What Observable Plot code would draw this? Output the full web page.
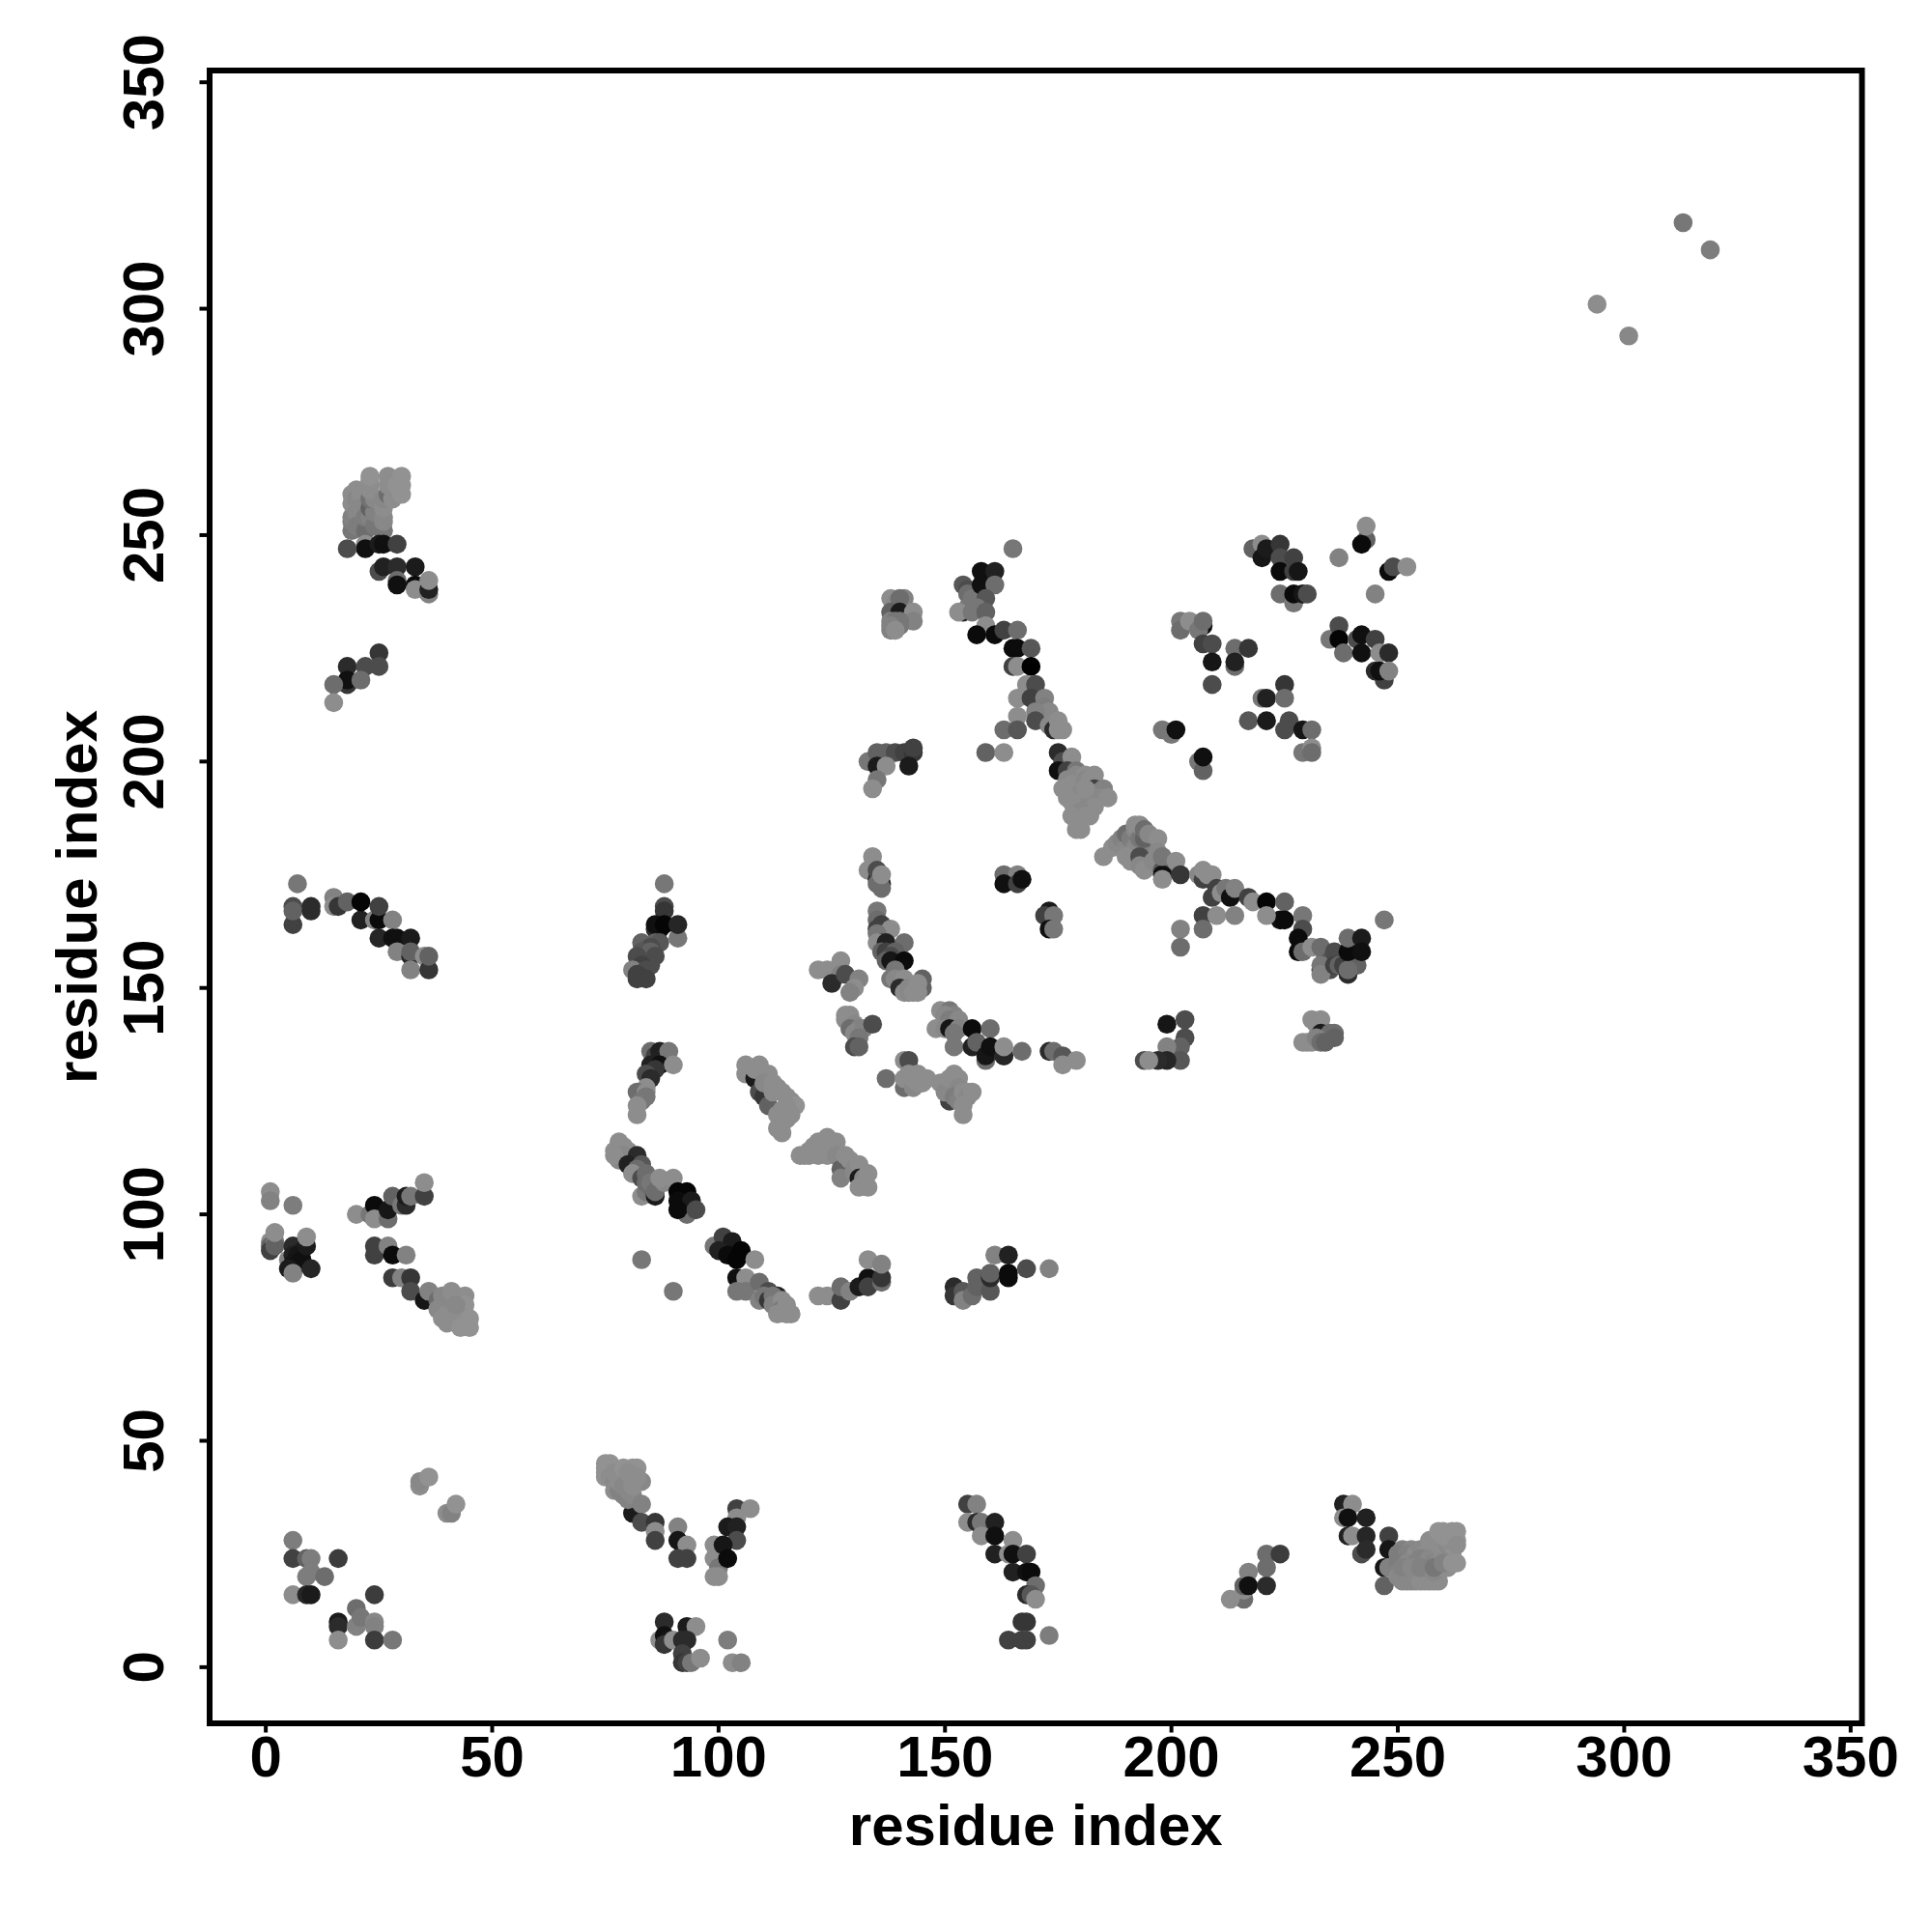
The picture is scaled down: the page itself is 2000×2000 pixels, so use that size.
<!DOCTYPE html>
<html><head><meta charset="utf-8">
<script src="https://cdn.jsdelivr.net/npm/d3@7"></script>
<script src="https://cdn.jsdelivr.net/npm/@observablehq/plot@0.6"></script>
<style>html,body{margin:0;padding:0;background:#fff}svg{display:block}</style>
</head><body><div id="chart"></div>
<script>
const tickValues = [0,50,100,150,200,250,300,350];
const axisLabel = "residue index";
// each contact: [residue i, residue j, gray level]
const bottomLeft = [[6,28,115],[6,24,60],[9,24,90],[10,24,115],[16,24,55],[9,20,115],[10,21,115],[13,20,100],[6,16,130],[9,16,35],[10,16,25],[24,16,55],[20,13,100],[16,10,25],[16,9,40],[20,9,120],[21,11,110],[24,10,125],[24,9,120],[16,6,130],[24,6,55],[28,6,110],[34,40,130],[34,41,125],[36,42,135],[40,34,130],[41,34,120],[42,36,135]];
const bottomV = [[81,34,25],[75,45,135],[76,45,135],[76,44,135],[75,44,135],[75,43,135],[75,42,135],[76,42,130],[77,41,125],[78,40,125],[77,39,130],[78,39,120],[79,38,120],[80,37,120],[81,38,125],[78,43,130],[79,42,125],[80,41,125],[81,44,135],[82,44,135],[81,43,135],[83,41,125],[77,43,130],[78,41,130],[79,40,125],[80,39,125],[81,40,130],[82,42,130],[79,44,135],[80,43,130],[83,36,120],[83,32,70],[86,32,50],[86,30,130],[86,28,60],[91,31,120],[91,28,20],[93,27,130],[91,24,60],[93,24,60],[99,27,130],[99,24,130],[100,22,110],[99,20,130],[100,20,130],[104,35,60],[107,35,130],[104,33,130],[102,31,25],[104,31,30],[104,28,70],[101,27,20],[102,24,10]];
const bottomBase = [[88,10,40],[93,9,25],[95,9,130],[87,6,130],[88,7,15],[89,6,20],[88,5,50],[90,6,130],[92,6,40],[93,6,40],[92,3,60],[92,1,50],[93,1,60],[94,1,110],[96,2,130],[102,6,115],[103,1,130],[105,1,120]];
const bottomMid = [[155,36,60],[157,36,120],[155,32,130],[157,32,40],[158,32,110],[161,32,30],[158,29,130],[161,29,15],[161,25,30],[165,28,130],[164,25,130],[165,25,15],[168,25,60],[165,21,30],[168,21,15],[169,21,10],[170,18,100],[168,16,40],[169,16,80],[170,15,130],[167,10,50],[168,10,50],[164,6,60],[167,6,60],[168,6,60],[173,7,115],[216,15,100],[213,15,130],[216,17,130],[216,18,90],[217,21,120],[217,18,15],[221,18,40],[221,22,100],[221,25,100],[224,25,55]];
const bottomRight = [[238,36,30],[240,36,130],[238,33,130],[239,33,15],[243,33,30],[239,29,30],[240,29,130],[243,29,35],[242,25,70],[243,26,40],[248,29,60],[248,26,20],[247,22,20],[247,18,90],[248,22,120],[251,26,120],[253,26,125],[250,25,115],[252,25,120],[254,25,130],[250,23,115],[252,23,125],[254,23,120],[256,23,130],[250,21,120],[252,21,120],[254,21,125],[256,21,125],[250,20,125],[252,20,125],[254,20,130],[256,20,130],[258,20,130],[259,19,130],[257,19,130],[252,19,125],[254,19,125],[251,19,125],[253,19,125],[255,19,130],[256,19,130],[258,19,130],[255,26,125],[256,25,130],[258,25,125],[258,26,130],[259,26,130],[255,24,120],[257,24,125],[251,22,120],[253,22,125],[255,22,120],[258,21,125],[260,22,130],[261,22,130],[258,23,120],[259,24,125],[261,24,125],[260,25,130],[262,25,135],[257,28,130],[259,27,130],[260,27,130],[261,27,125],[262,27,135],[261,28,130],[258,22,110],[259,30,135],[260,29,135],[260,30,135],[262,30,135],[263,30,135],[263,28,135],[263,27,130],[260,23,120],[262,23,135],[263,23,135]];
const leftRow100 = [[1,105,130],[1,103,120],[6,102,115],[1,94,130],[1,93,90],[1,92,60],[2,94,110],[2,93,90],[2,96,130],[5,90,120],[6,93,40],[6,91,30],[8,92,30],[7,91,20],[6,89,20],[8,90,15],[7,89,15],[5,88,25],[6,87,120],[10,88,35],[9,93,25],[9,95,130],[20,100,130],[23,100,110],[24,102,10],[24,99,130],[27,99,100],[27,101,20],[28,104,90],[30,102,110],[31,102,40],[31,104,25],[32,104,110],[35,104,60],[35,107,130]];
const leftRow85 = [[24,93,60],[24,91,60],[27,93,120],[28,91,10],[31,91,120],[28,86,55],[30,86,120],[32,86,50],[32,83,70],[35,81,20],[36,83,120],[38,81,100],[38,79,125],[39,82,125],[39,77,130],[40,80,125],[40,78,130],[41,81,125],[41,83,130],[42,82,130],[44,82,130],[40,76,130],[41,78,130],[43,80,130],[43,78,130],[44,80,135],[42,76,130],[44,76,135],[44,77,130],[45,77,135],[43,75,135],[45,75,135],[42,80,125]];
const arcOne = [[78,116,130],[77,114,130],[80,114,130],[78,114,130],[79,115,130],[79,113,125],[78,112,125],[77,113,130],[82,113,40],[80,111,30],[83,111,80],[82,110,100],[81,109,130],[83,108,70],[84,109,100],[83,104,130],[84,105,110],[85,106,100],[84,107,100],[85,107,110],[86,104,25],[86,105,100],[88,107,125],[87,108,130],[90,108,130],[93,100,100],[91,105,5],[93,105,5],[91,103,10],[94,103,25],[91,101,10],[95,101,70],[99,93,110],[101,95,60],[103,94,25],[100,92,30],[102,91,10],[105,92,5],[104,90,5],[104,86,15],[106,86,130],[108,90,130],[104,83,110],[106,83,110],[109,85,100],[111,83,70],[109,81,120],[110,82,110],[111,81,50],[113,82,30],[112,82,110],[112,80,120],[114,81,130],[114,79,110],[113,78,130],[115,78,130],[115,80,130],[116,78,130],[83,90,110],[90,83,110]];
const row85 = [[122,82,130],[124,82,130],[127,81,60],[127,84,100],[129,83,120],[131,84,25],[133,86,15],[133,84,60],[133,90,130],[136,85,100],[136,86,50],[136,89,120],[152,84,40],[152,82,50],[154,82,60],[154,83,80],[154,81,120],[156,82,100],[157,84,90],[157,86,90],[160,83,80],[160,86,40],[160,87,90],[161,91,120],[164,91,30],[164,87,10],[164,86,10],[168,88,70],[173,88,120]];
const arcTwo = [[106,133,130],[106,131,130],[108,130,25],[109,133,130],[108,132,130],[111,131,130],[109,127,70],[110,126,50],[111,124,90],[110,129,125],[112,129,130],[112,127,130],[113,128,130],[114,127,130],[115,126,130],[116,125,130],[117,124,135],[115,124,130],[114,123,130],[113,122,130],[116,122,130],[115,121,130],[114,120,130],[113,119,130],[114,118,130],[118,113,130],[119,113,130],[120,113,130],[120,114,130],[121,115,130],[122,116,130],[122,113,130],[123,114,130],[124,117,130],[125,115,130],[126,116,130],[124,113,130],[126,113,125],[127,112,125],[127,110,90],[127,108,120],[128,113,130],[129,112,130],[130,110,125],[130,109,125],[131,111,130],[131,108,25],[132,108,125],[133,109,130],[131,106,130],[133,106,130]];
const arc120 = [[85,136,100],[86,135,60],[87,136,30],[89,136,110],[85,133,30],[87,133,15],[90,133,130],[86,132,50],[84,131,70],[85,130,40],[84,128,130],[82,127,100],[84,127,130],[84,126,110],[83,125,110],[82,124,130],[82,122,130]];
const col135 = [[134,179,130],[133,176,130],[135,174,40],[135,176,70],[136,173,40],[135,173,100],[136,172,100],[136,175,130],[135,167,110],[135,165,100],[136,164,60],[135,163,60],[138,163,130],[135,162,110],[136,160,70],[135,160,130],[137,160,30],[141,160,100],[136,158,90],[137,158,60],[139,158,90],[138,157,70],[137,156,90],[138,156,20],[141,156,10],[139,154,110],[138,152,110],[139,152,125],[141,152,130],[140,150,40],[141,149,130],[145,150,90],[145,152,90],[142,150,125],[142,149,125],[144,151,130],[144,149,130],[143,149,130]];
const wing = [[122,154,130],[124,154,130],[127,156,130],[127,153,120],[125,151,40],[128,153,70],[131,152,120],[130,150,130],[129,149,120],[129,144,130],[128,144,130],[129,143,130],[128,143,130],[130,142,125],[129,141,100],[131,141,120],[130,140,125],[132,141,120],[131,139,110],[134,142,70],[130,137,70],[131,137,90],[141,134,130],[142,134,70],[137,130,100],[141,128,100],[141,130,130],[143,128,125],[143,130,130],[142,131,130],[144,131,130],[144,129,130],[145,129,130],[145,130,130],[146,130,130]];
const blob150 = [[151,126,40],[151,125,60],[151,127,80],[149,129,130],[150,128,130],[150,127,125],[151,130,130],[152,131,130],[153,130,130],[153,128,125],[152,126,115],[153,125,120],[154,127,130],[155,127,130],[155,126,125],[156,127,130],[154,124,130],[154,122,130]];
const arcThree = [[149,145,130],[151,145,110],[152,144,120],[150,144,125],[150,143,125],[151,143,115],[153,143,125],[148,141,130],[150,141,125],[151,141,20],[153,141,120],[152,140,110],[156,141,10],[160,141,100],[152,137,110],[156,137,30],[157,138,90],[159,134,100],[159,135,20],[160,137,15],[163,135,60],[163,135,35],[163,137,130],[167,136,100],[173,136,40],[174,136,100],[176,135,80],[176,133,130],[179,134,130]];
const pairs = [[163,175,100],[166,175,120],[163,173,15],[166,173,60],[167,174,15],[173,167,25],[172,166,60],[174,166,110],[173,163,15],[174,163,110],[199,142,20],[203,143,70],[203,139,70],[202,137,90],[199,137,120],[202,134,80],[199,134,35],[197,134,40],[194,134,70],[195,134,130]];
const longArc = [[179,185,130],[185,179,130],[187,181,130],[188,182,125],[189,183,120],[190,181,125],[190,184,100],[191,183,115],[192,181,125],[192,185,125],[192,186,130],[193,183,110],[193,186,130],[195,181,120],[194,183,90],[194,185,100],[195,184,125],[190,179,130],[191,178,130],[193,179,70],[193,177,125],[197,183,130],[197,180,125],[194,176,130],[196,178,125],[199,177,125],[198,176,80],[198,175,15],[198,174,130],[198,179,110],[201,178,130],[202,175,50],[206,175,125],[207,174,60],[207,176,130],[208,175,130],[209,175,130],[209,170,60],[210,172,60],[211,171,130],[212,172,110],[213,170,15],[214,172,120],[217,170,60],[218,169,130],[221,169,5],[225,169,90],[224,165,15],[225,165,10],[221,166,130],[229,166,110],[229,163,70],[228,161,10],[228,158,10],[229,158,100],[231,159,130],[233,159,100],[234,157,100],[235,156,80],[235,154,70],[233,154,40],[233,155,110],[233,153,120],[236,158,70],[236,155,60],[237,155,90],[238,155,60],[239,153,40],[240,156,40],[241,155,90],[239,154,100],[239,158,10],[239,161,100],[242,161,25],[242,158,15],[207,166,60],[210,166,130],[207,163,100],[214,166,120],[202,163,120],[202,159,100],[247,165,110],[231,143,130],[232,142,130],[233,143,130],[233,140,25],[235,140,100],[236,140,100],[236,139,90],[229,138,130],[230,138,130],[231,138,130],[232,139,120],[233,138,100],[234,138,90]];
const upperMid = [[165,247,110],[158,242,15],[161,242,30],[154,239,80],[155,238,70],[155,237,100],[157,236,80],[156,236,110],[158,239,15],[161,239,100],[159,236,80],[154,233,35],[155,234,110],[157,234,110],[153,233,130],[156,233,110],[159,233,90],[159,230,130],[157,228,10],[161,228,10],[163,229,60],[166,229,100],[165,225,10],[166,225,10],[169,225,80],[165,221,60],[166,221,130],[169,221,0],[168,217,130],[170,217,70],[166,214,130],[169,214,60],[172,214,120],[172,212,115],[173,211,125],[170,211,120],[166,210,130],[163,207,100],[166,207,80],[170,209,70],[173,208,125],[174,209,125],[174,207,40],[175,209,130],[175,207,130],[176,207,130],[159,202,90],[163,202,130],[175,202,40],[176,200,70],[178,201,130],[175,198,15],[177,198,60],[179,198,110],[179,197,125],[177,196,125],[178,195,130],[176,194,130],[179,194,130],[181,197,130],[181,196,125],[182,196,130],[183,197,130],[183,194,60],[180,193,125],[183,193,125],[185,194,120],[181,192,125],[184,192,125],[186,192,130],[177,192,130],[180,191,130],[178,191,130],[182,191,125],[183,190,130],[181,194,130],[180,189,125],[178,188,130],[181,188,130],[182,188,130],[179,187,130],[180,185,130]];
const col140 = [[133,200,110],[135,202,90],[137,202,90],[139,202,70],[141,202,60],[143,202,50],[143,203,60],[142,199,25],[135,199,25],[137,199,130],[135,196,110],[134,194,130],[138,236,130],[139,235,125],[141,236,120],[140,236,100],[138,233,90],[140,233,25],[143,233,130],[143,231,120],[138,231,120],[139,231,110],[140,231,110],[139,230,110],[140,230,110],[138,230,120],[138,229,120],[139,229,110],[139,229,130]];
const upperRight = [[243,249,90],[242,248,10],[243,252,130],[237,245,120],[248,242,10],[249,243,70],[252,243,130],[245,237,120],[218,247,90],[220,248,130],[220,245,20],[221,247,25],[224,248,50],[224,245,70],[227,245,60],[224,242,10],[227,242,60],[228,242,20],[224,237,100],[227,235,110],[227,237,10],[229,237,20],[230,237,70],[202,231,110],[202,229,100],[204,231,130],[207,230,10],[206,229,110],[207,231,100],[207,226,60],[209,226,70],[209,222,20],[214,225,100],[217,225,50],[214,221,100],[214,222,30],[209,217,70],[225,217,50],[220,214,110],[221,214,30],[225,214,100],[217,209,80],[221,209,25],[225,207,70],[226,209,70],[229,207,20],[231,207,100],[229,202,110],[231,203,130],[231,202,100],[198,207,110],[200,206,110],[201,207,15],[206,200,110],[207,198,90],[207,201,15],[235,227,110],[237,230,70],[237,227,5],[238,224,100],[241,227,70],[242,228,15],[245,227,60],[242,224,15],[246,224,130],[248,224,40],[247,218,60],[245,220,40],[246,220,15],[248,220,120]];
const topLeft = [[19,251,110],[19,253,115],[19,254,120],[19,257,130],[19,259,130],[20,260,130],[20,258,125],[20,255,125],[20,252,115],[21,259,130],[21,256,125],[21,252,115],[22,251,100],[22,254,115],[23,254,120],[23,256,90],[24,252,110],[24,255,120],[23,258,105],[24,258,125],[23,260,130],[23,261,130],[23,262,130],[23,263,135],[26,251,110],[26,253,125],[26,254,125],[26,256,130],[26,258,125],[27,259,100],[28,258,130],[27,261,130],[28,261,130],[27,263,130],[30,259,135],[30,261,135],[29,261,135],[30,263,135],[22,248,130],[22,247,15],[18,247,70],[25,248,25],[26,248,15],[29,248,60],[25,242,70],[26,243,30],[29,243,40],[33,243,25],[29,240,100],[29,239,15],[33,239,10],[33,238,130],[36,237,120],[36,238,30],[36,240,130],[25,224,50],[25,221,70],[18,221,40],[22,221,70],[18,217,50],[18,218,15],[21,218,100],[15,217,100],[15,213,130]];
const leftRow165 = [[7,173,110],[6,164,60],[6,168,70],[6,167,90],[10,168,40],[10,167,40],[15,170,120],[15,168,130],[16,168,50],[18,169,90],[21,165,30],[21,169,5],[24,165,120],[25,165,10],[25,168,60],[25,161,35],[28,165,120],[28,161,15],[29,161,15],[32,161,25],[29,158,120],[32,157,35],[32,158,90],[32,154,120],[35,157,130],[36,154,50],[36,157,90]];
const col85 = [[88,173,110],[88,168,70],[88,167,50],[86,163,40],[87,163,15],[86,164,15],[88,164,5],[91,161,110],[91,164,35],[83,160,90],[86,160,90],[87,160,80],[85,159,70],[84,156,110],[83,158,80],[85,158,90],[82,157,70],[86,157,70],[85,155,70],[83,155,60],[81,154,120],[84,154,70],[82,153,60],[82,152,60],[84,152,60]];
const topRight = [[294,301,130],[301,294,125],[313,319,110],[319,313,115]];

const groups = [bottomLeft,bottomV,bottomBase,bottomMid,bottomRight,leftRow100,leftRow85,arcOne,row85,arcTwo,arc120,col135,wing,blob150,arcThree,pairs,longArc,upperMid,col140,upperRight,topLeft,leftRow165,col85,topRight];
const rows = groups.flat().map(([i,j,g]) => ({i,j,g}));

const font = "'Liberation Sans', Arial, Helvetica, sans-serif";
const chart = Plot.plot({
  width: 2000, height: 2000,
  marginLeft: 216.5, marginRight: 73, marginTop: 72.5, marginBottom: 216.5,
  x: {domain: [-12.4, 352.5], label: null},
  y: {domain: [-12.4, 352.6], label: null},
  color: {type: "linear", domain: [0, 235], range: ["#000000", "#ffffff"]},
  style: {fontFamily: font, background: "#fff", color: "#000"},
  marks: [
    Plot.dot(rows, {x: "i", y: "j", r: 9.8, fill: "g", stroke: "none"}),
    Plot.frame({stroke: "#000", strokeWidth: 6}),
    Plot.axisX({ticks: tickValues, tickFormat: d => String(d), tickSize: 10, strokeWidth: 4, tickPadding: 2,
      fontSize: 60, fontWeight: "bold", label: axisLabel, labelAnchor: "center", labelArrow: "none", labelOffset: 126, marginBottom: 216.5}),
    Plot.axisY({ticks: tickValues, tickFormat: d => String(d), tickSize: 10, strokeWidth: 4, tickPadding: 38, tickRotate: -90,
      textAnchor: "middle", lineAnchor: "bottom", fontSize: 60, fontWeight: "bold", label: axisLabel, labelAnchor: "center", labelArrow: "none", labelOffset: 160, marginLeft: 216.5})
  ]
});
document.getElementById("chart").appendChild(chart);
</script></body></html>
